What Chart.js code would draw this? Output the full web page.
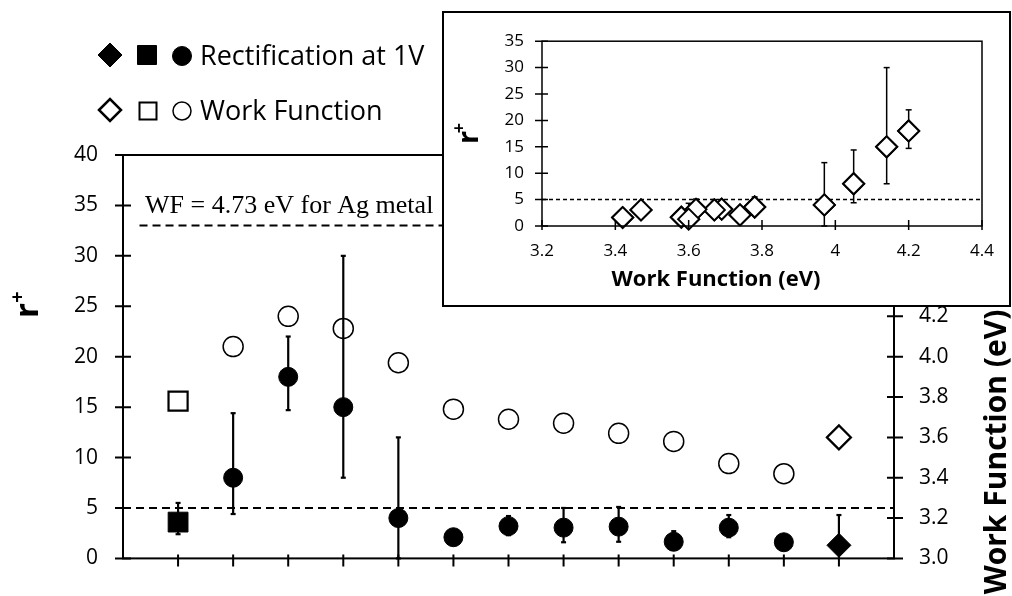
<!DOCTYPE html>
<html>
<head>
<meta charset="utf-8">
<script src="https://cdn.jsdelivr.net/npm/chart.js@4.4.1/dist/chart.umd.min.js"></script>
<style>
  html, body { margin: 0; padding: 0; background: #fff; }
  #wrap { position: relative; width: 1012px; height: 596px; overflow: hidden; }
  #mainChart { position: absolute; left: 0; top: 0; display: block; }
  #insetBox { position: absolute; left: 442px; top: 11px; width: 565px; height: 292px;
              border: 2px solid #000; background: #fff; }
  #insetChart { display: block; }
</style>
</head>
<body>
<div id="wrap">
  <canvas id="mainChart" width="1012" height="596"></canvas>
  <div id="insetBox"><canvas id="insetChart" width="565" height="292"></canvas></div>
</div>
<script>
// --- data ---
// sample positions along the bottom axis (the axis has no labels)
const samples = [1, 2, 3, 4, 5, 6, 7, 8, 9, 10, 11, 12, 13];
// rectification ratio r+ at 1V
const rectification = [3.6, 8, 18, 15, 4, 2.1, 3.2, 3.05, 3.15, 1.65, 3.05, 1.6, 1.3];
// error bar ends (null = no bar visible)
const rectErrLow  = [2.4, 4.4, 14.7, 8, 0, null, 2.3, 1.6, 1.65, null, 2.1, null, null];
const rectErrHigh = [5.5, 14.4, 22, 30, 12, null, 4.2, 5.0, 5.1, 2.7, 4.3, null, 4.3];
// work function (eV)
const workFunction = [3.78, 4.05, 4.20, 4.14, 3.97, 3.74, 3.69, 3.67, 3.62, 3.58, 3.47, 3.42, 3.60];

// tick labels
const rTicks = [0, 5, 10, 15, 20, 25, 30, 35, 40];
const wfTicks = [3.0, 3.2, 3.4, 3.6, 3.8, 4.0, 4.2, 4.4, 4.6, 4.8, 5.0];
const insetRTicks = [0, 5, 10, 15, 20, 25, 30, 35];
const insetWfTicks = [3.2, 3.4, 3.6, 3.8, 4.0, 4.2, 4.4];

// reference lines
const thresholdR = 5;
const agLineR = 33;

const FONT = 'Open Sans';
const last = samples.length - 1;

// first sample is a square, last one a diamond, the rest circles
function shapeFor(i) {
    if (i === 0) return 'rect';
    if (i === last) return 'rectRot';
    return 'circle';
}

function drawErrorBars(ctx, xs, ys, xVals, yVals, lows, highs, cap, lw) {
    ctx.save();
    ctx.strokeStyle = '#000';
    ctx.lineWidth = lw;
    xVals.forEach((xv, i) => {
        const px = xs.getPixelForValue(xv);
        const yc = ys.getPixelForValue(yVals[i]);
        [lows[i], highs[i]].forEach(v => {
            if (v === null) return;
            const py = ys.getPixelForValue(v);
            ctx.beginPath(); ctx.moveTo(px, yc); ctx.lineTo(px, py); ctx.stroke();
            ctx.beginPath(); ctx.moveTo(px - cap, py); ctx.lineTo(px + cap, py); ctx.stroke();
        });
    });
    ctx.restore();
}

// small helper for the hand drawn legend markers
function legendMark(ctx, shape, x, y, size, filled, lw) {
    ctx.save();
    ctx.lineWidth = lw;
    ctx.strokeStyle = '#000';
    ctx.fillStyle = filled ? '#000' : '#fff';
    ctx.beginPath();
    if (shape === 'diamond') {
        ctx.moveTo(x - size, y); ctx.lineTo(x, y - size); ctx.lineTo(x + size, y); ctx.lineTo(x, y + size);
        ctx.closePath();
    } else if (shape === 'square') {
        ctx.rect(x - size, y - size, size * 2, size * 2);
    } else {
        ctx.arc(x, y, size, 0, Math.PI * 2);
    }
    ctx.fill();
    ctx.stroke();
    ctx.restore();
}

function rotatedRPlus(ctx, baseX, startY, rSize, plusDx, plusDy, plusSize) {
    ctx.save();
    ctx.translate(baseX, startY);
    ctx.rotate(-Math.PI / 2);
    ctx.fillStyle = '#000';
    ctx.font = `bold ${rSize}px "${FONT}"`;
    ctx.textAlign = 'left';
    ctx.textBaseline = 'alphabetic';
    ctx.fillText('r', 0, 0);
    ctx.font = `bold ${plusSize}px "${FONT}"`;
    ctx.textAlign = 'center';
    ctx.textBaseline = 'middle';
    ctx.fillText('+', plusDx, plusDy);
    ctx.restore();
}

const mainDecor = {
    id: 'mainDecor',
    afterDatasetsDraw(chart) {
        const { ctx, scales } = chart;
        drawErrorBars(ctx, scales.x, scales.y, samples, rectification, rectErrLow, rectErrHigh, 2.5, 2.2);
    },
    afterDraw(chart) {
        const { ctx, chartArea: a, scales } = chart;
        ctx.save();
        ctx.strokeStyle = '#000';
        ctx.lineWidth = 2;
        ctx.strokeRect(a.left, a.top, a.right - a.left, a.bottom - a.top);

        // crossing tick marks
        ctx.beginPath();
        rTicks.forEach(v => {
            const py = scales.y.getPixelForValue(v);
            ctx.moveTo(a.left - 8, py); ctx.lineTo(a.left + 8, py);
        });
        wfTicks.forEach(v => {
            const py = scales.y2.getPixelForValue(v);
            ctx.moveTo(a.right - 7, py); ctx.lineTo(a.right + 9, py);
        });
        samples.forEach(v => {
            const px = scales.x.getPixelForValue(v);
            ctx.moveTo(px, a.bottom - 4); ctx.lineTo(px, a.bottom + 8);
        });
        ctx.stroke();

        // Ag metal label
        ctx.fillStyle = '#000';
        ctx.font = '26px "Liberation Serif"';
        ctx.textAlign = 'left';
        ctx.textBaseline = 'alphabetic';
        ctx.fillText('WF = 4.73 eV for Ag metal', scales.x.getPixelForValue(0.4), scales.y.getPixelForValue(34.2));

        // legend
        legendMark(ctx, 'diamond', 110, 55, 12, true, 1);
        legendMark(ctx, 'square', 147, 55, 9.5, true, 1);
        legendMark(ctx, 'circle', 182, 56, 9.5, true, 1);
        legendMark(ctx, 'diamond', 110, 110, 11, false, 2.5);
        legendMark(ctx, 'square', 148, 111, 8.5, false, 2);
        legendMark(ctx, 'circle', 182, 111, 9, false, 1.5);
        ctx.font = `27px "${FONT}"`;
        ctx.fillText('Rectification at 1V', 200, 65);
        ctx.fillText('Work Function', 200, 120);

        // axis titles
        rotatedRPlus(ctx, 38, 318, 33, 21, -20, 20);
        ctx.save();
        ctx.translate(997, 452);
        ctx.rotate(-Math.PI / 2);
        ctx.font = `bold 30px "${FONT}"`;
        ctx.textAlign = 'center';
        ctx.textBaseline = 'middle';
        ctx.fillText('Work Function (eV)', 0, 0);
        ctx.restore();
        ctx.restore();
    }
};

const insetDecor = {
    id: 'insetDecor',
    afterDatasetsDraw(chart) {
        // error bars under the markers: redraw markers on top afterwards
        const { ctx, scales } = chart;
        drawErrorBars(ctx, scales.x, scales.y, workFunction, rectification, rectErrLow, rectErrHigh, 3, 1.5);
        chart.getDatasetMeta(0).controller.draw();
    },
    afterDraw(chart) {
        const { ctx, chartArea: a, scales } = chart;
        ctx.save();
        ctx.strokeStyle = '#000';
        ctx.lineWidth = 1.5;
        ctx.strokeRect(a.left, a.top, a.right - a.left, a.bottom - a.top);
        ctx.beginPath();
        insetRTicks.forEach(v => {
            const py = scales.y.getPixelForValue(v);
            ctx.moveTo(a.left - 7, py); ctx.lineTo(a.left + 6, py);
        });
        insetWfTicks.forEach(v => {
            const px = scales.x.getPixelForValue(v);
            ctx.moveTo(px, a.bottom - 6); ctx.lineTo(px, a.bottom + 4);
        });
        ctx.stroke();

        ctx.fillStyle = '#000';
        ctx.font = `bold 22px "${FONT}"`;
        ctx.textAlign = 'center';
        ctx.textBaseline = 'middle';
        ctx.fillText('Work Function (eV)', 272, 267);
        rotatedRPlus(ctx, 34, 131, 29, 16, -18, 18);
        ctx.restore();
    }
};

function fixedTicks(list) {
    return scale => { scale.ticks = list.map(v => ({ value: v })); };
}

const tickFont = { family: FONT, size: 21 };

const mainChart = new Chart(document.getElementById('mainChart'), {
    type: 'scatter',
    data: {
        datasets: [
            {
                label: 'Rectification at 1V',
                data: samples.map((s, i) => ({ x: s, y: rectification[i] })),
                yAxisID: 'y',
                pointStyle: c => shapeFor(c.dataIndex),
                pointRadius: c => c.dataIndex === 0 ? 14 : (c.dataIndex === last ? 12 : 9.5),
                backgroundColor: '#000',
                borderColor: '#000',
                borderWidth: 1,
                order: 1
            },
            {
                label: 'Work Function',
                data: samples.map((s, i) => ({ x: s, y: workFunction[i] })),
                yAxisID: 'y2',
                pointStyle: c => shapeFor(c.dataIndex),
                pointRadius: c => c.dataIndex === 0 ? 13.5 : (c.dataIndex === last ? 12 : 10),
                backgroundColor: '#fff',
                borderColor: '#000',
                borderWidth: c => (c.dataIndex === 0 || c.dataIndex === last) ? 2.2 : 1.5,
                order: 1
            },
            {
                type: 'line',
                data: [{ x: 0, y: thresholdR }, { x: 14, y: thresholdR }],
                yAxisID: 'y',
                borderColor: '#000',
                borderWidth: 2,
                borderDash: [8, 5],
                pointRadius: 0,
                order: 5
            },
            {
                type: 'line',
                data: [{ x: 0.3, y: agLineR }, { x: 14, y: agLineR }],
                yAxisID: 'y',
                borderColor: '#000',
                borderWidth: 2,
                borderDash: [8, 5],
                pointRadius: 0,
                order: 5
            }
        ]
    },
    options: {
        responsive: false,
        animation: false,
        devicePixelRatio: 1,
        events: [],
        layout: { padding: { top: 155, left: 0, right: 0, bottom: 0 } },
        plugins: { legend: { display: false }, tooltip: { enabled: false } },
        scales: {
            x: {
                type: 'linear', min: 0, max: 14,
                ticks: { display: false },
                grid: { display: false, drawTicks: false },
                border: { display: false },
                afterFit: s => { s.height = 9; }
            },
            y: {
                type: 'linear', position: 'left', min: 0, max: 40,
                afterBuildTicks: fixedTicks(rTicks),
                ticks: { font: tickFont, color: '#000', padding: 25 },
                grid: { display: false, drawTicks: false },
                border: { display: false },
                afterFit: s => { s.width = 123; }
            },
            y2: {
                type: 'linear', position: 'right', min: 3.0, max: 5.0,
                afterBuildTicks: fixedTicks(wfTicks),
                ticks: { font: tickFont, color: '#000', padding: 25, callback: v => v.toFixed(1) },
                grid: { display: false, drawTicks: false },
                border: { display: false },
                afterFit: s => { s.width = 118; }
            }
        }
    },
    plugins: [mainDecor]
});

const insetFont = { family: FONT, size: 17 };

const insetChart = new Chart(document.getElementById('insetChart'), {
    type: 'scatter',
    data: {
        datasets: [
            {
                data: workFunction.map((w, i) => ({ x: w, y: rectification[i] })),
                pointStyle: 'rectRot',
                pointRadius: 10.5,
                borderWidth: 2,
                borderColor: '#000',
                backgroundColor: '#fff',
                order: 1
            },
            {
                type: 'line',
                data: [{ x: 3.2, y: thresholdR }, { x: 4.4, y: thresholdR }],
                borderColor: '#000',
                borderWidth: 1.5,
                borderDash: [4, 3],
                pointRadius: 0,
                order: 5
            }
        ]
    },
    options: {
        responsive: false,
        animation: false,
        devicePixelRatio: 1,
        events: [],
        layout: { padding: { top: 20, right: 27, left: 0, bottom: 0 } },
        plugins: { legend: { display: false }, tooltip: { enabled: false } },
        scales: {
            x: {
                type: 'linear', min: 3.2, max: 4.4,
                afterBuildTicks: fixedTicks(insetWfTicks),
                ticks: { font: insetFont, color: '#000', padding: 15, callback: v => String(Number(v.toFixed(1))) },
                grid: { display: false, drawTicks: false },
                border: { display: false },
                afterFit: s => { s.height = 79; }
            },
            y: {
                type: 'linear', min: 0, max: 35,
                afterBuildTicks: fixedTicks(insetRTicks),
                ticks: { font: insetFont, color: '#000', padding: 18 },
                grid: { display: false, drawTicks: false },
                border: { display: false },
                afterFit: s => { s.width = 98; }
            }
        }
    },
    plugins: [insetDecor]
});
</script>
</body>
</html>
